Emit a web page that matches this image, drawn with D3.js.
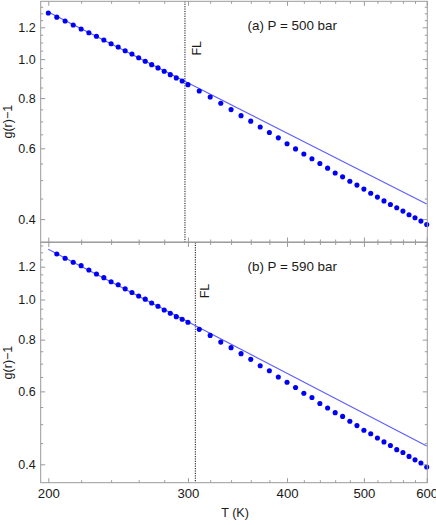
<!DOCTYPE html>
<html><head><meta charset="utf-8">
<script src="https://cdn.jsdelivr.net/npm/d3@7"></script>
<style>body{margin:0;background:#fff}svg{display:block}</style>
</head><body>
<script>
// ---------- data ----------
const temperaturesA = [200,205,210,215,220,225,230,235,240,245,250,255,260,265,270,275,280,285,290,295,300,
  310,320,330,340,350,360,370,380,390,400,410,420,430,440,450,460,470,480,490,500,510,520,530,540,550,560,570,580,590,600];
const valuesA = [1.302,1.272,1.244,1.216,1.188,1.163,1.140,1.116,1.092,1.072,1.049,1.030,1.008,0.988,0.969,0.951,0.933,0.915,0.898,0.882,0.864,
  0.833,0.805,0.777,0.749,0.7235,0.701,0.678,0.657,0.637,0.616,0.598,0.581,0.565,0.550,0.5355,0.521,0.5095,0.497,0.486,0.475,0.464,0.4537,0.444,0.435,0.4267,0.4187,0.410,0.403,0.3954,0.3878];
const temperaturesB = [205,210,215,220,225,230,235,240,245,250,255,260,265,270,275,280,285,290,295,300,
  310,320,330,340,350,360,370,380,390,400,410,420,430,440,450,460,470,480,490,500,510,520,530,540,550,560,570,580,590,600];
const valuesB = [1.288,1.258,1.230,1.207,1.178,1.152,1.129,1.104,1.085,1.061,1.040,1.020,1.002,0.981,0.963,0.943,0.926,0.909,0.896,0.881,
  0.847,0.819,0.789,0.765,0.740,0.717,0.692,0.673,0.650,0.631,0.613,0.594,0.580,0.561,0.547,0.533,0.522,0.508,0.496,0.4835,0.474,0.463,0.453,0.444,0.434,0.427,0.418,0.410,0.403,0.394];
const fitLineT = [200, 600];
const fitLineA = [1.310, 0.436];
const fitLineB = [1.322, 0.443];
const flTemperatures = [297.4, 306.5];
const panelLabels = ["(a) P = 500 bar", "(b) P = 590 bar"];
const flLabel = "FL";
const xTickValues = [200, 300, 400, 500, 600];
const xMinorTicks = [220,240,260,280,320,340,360,380,420,440,460,480,520,540,560,580];
const yTickValues = [0.4, 0.6, 0.8, 1.0, 1.2];
const yMinorTicks = [0.35,0.45,0.5,0.55,0.65,0.7,0.75,0.85,0.9,0.95,1.05,1.1,1.15,1.25,1.3,1.35];
const xTitle = "T (K)";
const yTitle = "g(r)\u22121";

// ---------- layout ----------
const W = 436, H = 525;
const L = 40.7, R = 427.3;
const FONT = "'Liberation Sans', Arial, sans-serif";
const frameColor = "#9a9a9a";
const textColor = "#1a1a1a";

const svg = d3.select("body").append("svg").attr("width", W).attr("height", H)
  .style("font-family", FONT);

const x = d3.scaleLog().domain([200, 600]).range([48.3, 426.7]);

const panels = [
  { top: 1.3, bottom: 242, y: d3.scaleLog().domain([0.4, 1.2]).range([219.1, 27.3]),
    T: temperaturesA, V: valuesA, fit: fitLineA, fl: flTemperatures[0], flOff: 15.6, label: panelLabels[0], xLabels: false },
  { top: 242.4, bottom: 482.7, y: d3.scaleLog().domain([0.4, 1.2]).range([464.3, 266.7]),
    T: temperaturesB, V: valuesB, fit: fitLineB, fl: flTemperatures[1], flOff: 13.2, label: panelLabels[1], xLabels: true }
];

function styleAxis(size) {
  return g => {
    g.select(".domain").remove();
    g.selectAll(".tick line").attr("stroke", frameColor).attr("stroke-width", 1);
    g.selectAll(".tick text").attr("fill", textColor).style("font-size", size + "px").style("font-family", FONT);
  };
}

panels.forEach((p, i) => {
  const g = svg.append("g");
  const y = p.y;
  const inRange = v => v >= y.invert(p.bottom) && v <= y.invert(p.top);

  // FL dotted line
  g.append("line")
    .attr("x1", x(p.fl)).attr("x2", x(p.fl))
    .attr("y1", p.top).attr("y2", p.bottom)
    .attr("stroke", "#111").attr("stroke-width", 1)
    .attr("stroke-dasharray", "1.2,1.2");

  // fit line
  const lineGen = d3.line().x(d => x(d[0])).y(d => y(d[1]));
  g.append("path")
    .datum(fitLineT.map((t, k) => [t, p.fit[k]]))
    .attr("d", lineGen)
    .attr("fill", "none").attr("stroke", "#5c5cff").attr("stroke-width", 1.1);

  // data points
  g.selectAll("circle.pt").data(p.T.map((t, k) => [t, p.V[k]]))
    .join("circle").attr("class", "pt")
    .attr("cx", d => x(d[0])).attr("cy", d => y(d[1]))
    .attr("r", 2.55).attr("fill", "#0000f5");

  // ticks: left (labeled), right, top, bottom
  const yMaj = yTickValues.filter(inRange), yMin = yMinorTicks.filter(inRange);
  g.append("g").attr("transform", `translate(${L},0)`)
    .call(d3.axisLeft(y).tickValues(yMaj).tickFormat(d3.format(".1f")).tickSizeInner(-4.5).tickSizeOuter(0).tickPadding(5))
    .call(styleAxis(12.5));
  g.append("g").attr("transform", `translate(${L},0)`)
    .call(d3.axisLeft(y).tickValues(yMin).tickFormat("").tickSizeInner(-2.5).tickSizeOuter(0))
    .call(styleAxis(12));
  g.append("g").attr("transform", `translate(${R},0)`)
    .call(d3.axisRight(y).tickValues(yMaj).tickFormat("").tickSizeInner(-4.5).tickSizeOuter(0))
    .call(styleAxis(12));
  g.append("g").attr("transform", `translate(${R},0)`)
    .call(d3.axisRight(y).tickValues(yMin).tickFormat("").tickSizeInner(-2.5).tickSizeOuter(0))
    .call(styleAxis(12));

  g.append("g").attr("transform", `translate(0,${p.bottom})`)
    .call(d3.axisBottom(x).tickValues(xTickValues).tickFormat(p.xLabels ? d3.format("d") : "").tickSizeInner(-4.5).tickSizeOuter(0).tickPadding(6))
    .call(styleAxis(13.2));
  g.append("g").attr("transform", `translate(0,${p.bottom})`)
    .call(d3.axisBottom(x).tickValues(xMinorTicks).tickFormat("").tickSizeInner(-2.5).tickSizeOuter(0))
    .call(styleAxis(12));
  g.append("g").attr("transform", `translate(0,${p.top})`)
    .call(d3.axisTop(x).tickValues(xTickValues).tickFormat("").tickSizeInner(-4.5).tickSizeOuter(0))
    .call(styleAxis(12));
  g.append("g").attr("transform", `translate(0,${p.top})`)
    .call(d3.axisTop(x).tickValues(xMinorTicks).tickFormat("").tickSizeInner(-2.5).tickSizeOuter(0))
    .call(styleAxis(12));

  // frame
  g.append("rect").attr("x", L).attr("y", p.top).attr("width", R - L).attr("height", p.bottom - p.top)
    .attr("fill", "none").attr("stroke", frameColor).attr("stroke-width", 1);

  // panel label
  g.append("text").attr("x", 247.5).attr("y", p.top + 28.8)
    .attr("fill", textColor).style("font-size", "13.4px").text(p.label);

  // FL label
  const fx = x(p.fl) + p.flOff, fy = (i === 0 ? 48.3 : 291);
  g.append("text").attr("transform", `translate(${fx},${fy}) rotate(-90)`)
    .attr("text-anchor", "middle").attr("fill", textColor).style("font-size", "12.5px").text(flLabel);

  // y title
  g.append("text").attr("transform", `translate(11.5,${(p.top + p.bottom) / 2}) rotate(-90)`)
    .attr("text-anchor", "middle").attr("fill", textColor).style("font-size", "12.5px").text(yTitle);
});

// x title
svg.append("text").attr("x", x(400) - 52).attr("y", 517)
  .attr("text-anchor", "middle").attr("fill", textColor).style("font-size", "12.5px").text(xTitle);
</script>
</body></html>
